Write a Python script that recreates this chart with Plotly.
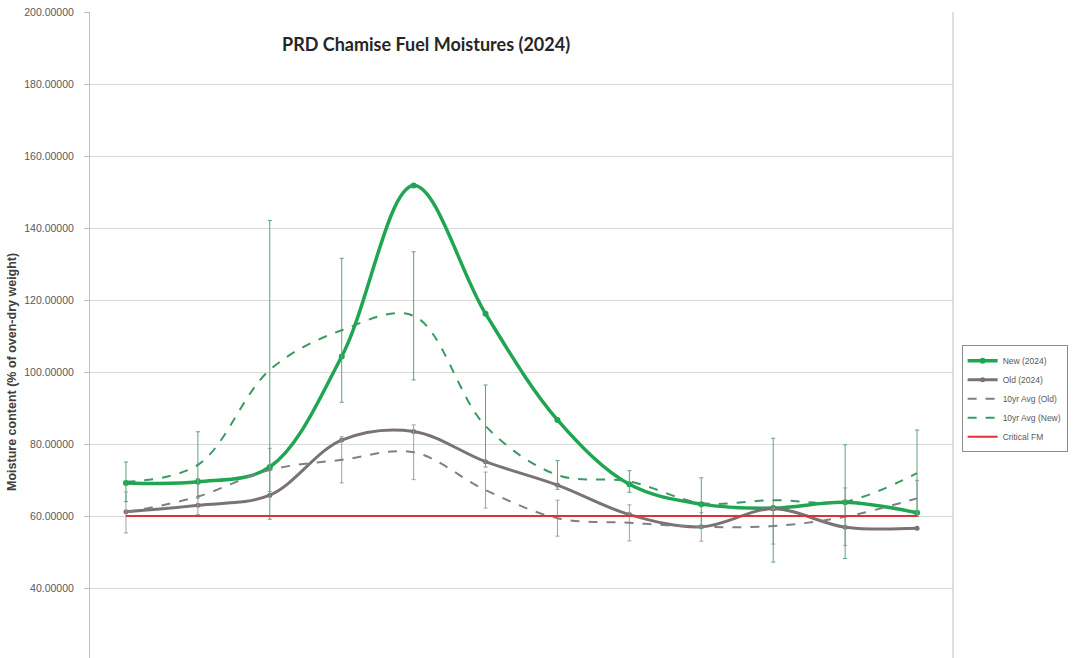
import plotly.graph_objects as go

samples = ["S1", "S2", "S3", "S4", "S5", "S6", "S7", "S8", "S9", "S10", "S11", "S12"]

new_2024 = [69.2, 69.5, 73.6, 104.3, 151.8, 116.2, 86.7, 68.8, 63.3, 62.2, 63.8, 60.9]
old_2024 = [61.2, 63.0, 65.8, 81.1, 83.5, 75.1, 68.6, 60.4, 57.0, 62.0, 56.9, 56.6]
avg10_old = [61.0, 65.4, 72.8, 75.6, 77.7, 67.2, 59.4, 58.1, 57.0, 57.2, 59.8, 64.9]
avg10_old_sd = [5.7, 5.0, 6.0, 6.4, 7.6, 5.0, 5.0, 5.0, 4.0, 5.0, 8.0, 5.0]
avg10_new = [69.5, 74.2, 100.6, 111.6, 115.6, 85.0, 71.4, 69.6, 63.6, 64.4, 64.0, 71.9]
avg10_new_sd = [5.5, 9.2, 41.5, 20.0, 17.8, 11.4, 4.0, 3.0, 7.0, 17.2, 15.8, 12.0]
critical_fm = [60, 60, 60, 60, 60, 60, 60, 60, 60, 60, 60, 60]

fig = go.Figure()

fig.add_trace(go.Scatter(
    x=samples, y=new_2024, name="New (2024)", mode="lines+markers",
    line=dict(color="#20a552", width=3.5, shape="spline", smoothing=1.0),
    marker=dict(color="#20a552", size=6),
))
fig.add_trace(go.Scatter(
    x=samples, y=old_2024, name="Old (2024)", mode="lines+markers",
    line=dict(color="#7a7273", width=3, shape="spline", smoothing=1.0),
    marker=dict(color="#7a7273", size=5),
))
fig.add_trace(go.Scatter(
    x=samples, y=avg10_old, name="10yr Avg (Old)", mode="lines",
    line=dict(color="#808080", width=2, dash="dash", shape="spline", smoothing=1.0),
    error_y=dict(type="data", array=avg10_old_sd, visible=True,
                 color="#a0a0a0", thickness=1, width=2),
))
fig.add_trace(go.Scatter(
    x=samples, y=avg10_new, name="10yr Avg (New)", mode="lines",
    line=dict(color="#3a9a62", width=2, dash="dash", shape="spline", smoothing=1.0),
    error_y=dict(type="data", array=avg10_new_sd, visible=True,
                 color="#5aa57a", thickness=1, width=2),
))
fig.add_trace(go.Scatter(
    x=samples, y=critical_fm, name="Critical FM", mode="lines",
    line=dict(color="#e0313b", width=2),
))

fig.update_layout(
    width=1083, height=658,
    margin=dict(l=90, r=130, t=12, b=0),
    paper_bgcolor="white", plot_bgcolor="white",
    font=dict(family="Liberation Sans, Arial, sans-serif", color="#595959"),
    showlegend=True,
    legend=dict(
        x=1.01, y=0.484, xanchor="left", yanchor="top",
        bordercolor="#8c8c8c", borderwidth=1, bgcolor="white",
        font=dict(size=8.5, color="#595959"),
        itemwidth=30, tracegroupgap=0,
    ),
    xaxis=dict(
        type="category", range=[-0.5, 11.5],
        showticklabels=False, showgrid=False, zeroline=False,
        showline=False, ticks="",
    ),
    yaxis=dict(
        range=[20.56, 200], tickmode="array",
        tickvals=[40, 60, 80, 100, 120, 140, 160, 180, 200],
        tickformat=".5f",
        showgrid=True, gridcolor="#d9d9d9", gridwidth=1,
        showline=True, linecolor="#bfbfbf", linewidth=1,
        ticks="outside", ticklen=5, tickcolor="#bfbfbf",
        ticklabelstandoff=8,
        tickfont=dict(size=10.5, color="#595959"),
        zeroline=False,
    ),
    annotations=[
        dict(text="<b>PRD Chamise Fuel Moistures (2024)</b>",
             x=(426 - 90) / 863, y=(658 - 44) / 646,
             xref="paper", yref="paper", xanchor="center", yanchor="middle",
             showarrow=False,
             font=dict(size=18, family="Lato, Open Sans, sans-serif", color="#262626")),
        dict(text="<b>Moisture content (% of oven-dry weight)</b>",
             x=(12 - 90) / 863, y=(658 - 372) / 646, xref="paper", yref="paper",
             xanchor="center", yanchor="middle",
             textangle=-90, showarrow=False,
             font=dict(size=12.5, color="#404040")),
    ],
    shapes=[
        dict(type="line", xref="paper", yref="paper", x0=1, x1=1, y0=0, y1=1,
             line=dict(color="#bfbfbf", width=1)),
    ],
)

fig.write_html("out.html")
